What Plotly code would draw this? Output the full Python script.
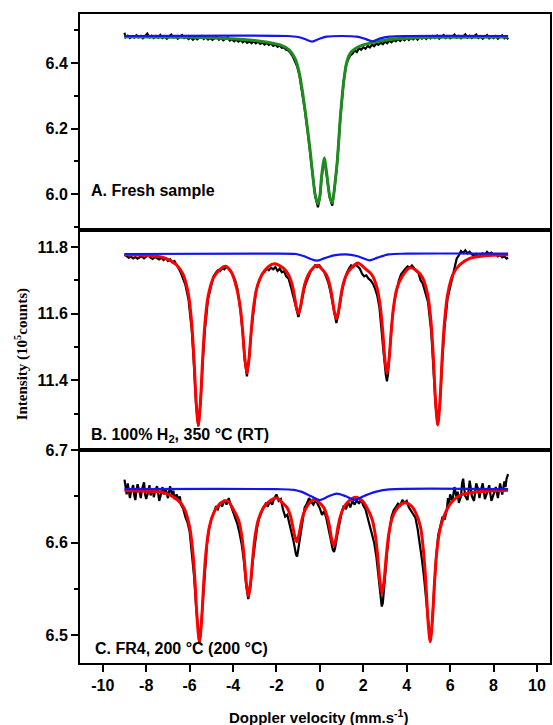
import plotly.graph_objects as go
from plotly.subplots import make_subplots

# ---------------- Panel A: fresh sample ----------------
a_data = [(-9.0, 6.492), (-8.95, 6.478), (-8.85, 6.483), (-8.75, 6.476), (-8.65, 6.481), (-8.55, 6.477),
          (-8.45, 6.484), (-8.35, 6.478), (-8.25, 6.482), (-8.15, 6.475), (-8.05, 6.481), (-7.95, 6.489),
          (-7.85, 6.478), (-7.75, 6.483), (-7.65, 6.476), (-7.55, 6.482), (-7.45, 6.477), (-7.35, 6.485),
          (-7.25, 6.476), (-7.15, 6.481), (-7.05, 6.474), (-6.95, 6.480), (-6.85, 6.486), (-6.75, 6.477),
          (-6.65, 6.481), (-6.55, 6.474), (-6.45, 6.479), (-6.35, 6.485), (-6.25, 6.476), (-6.15, 6.480),
          (-6.05, 6.473), (-5.95, 6.478), (-5.85, 6.471), (-5.75, 6.477), (-5.65, 6.472), (-5.55, 6.478),
          (-5.45, 6.482), (-5.35, 6.473), (-5.25, 6.478), (-5.15, 6.471), (-5.05, 6.476), (-4.95, 6.470),
          (-4.85, 6.475), (-4.75, 6.480), (-4.65, 6.471), (-4.55, 6.476), (-4.45, 6.469), (-4.35, 6.474),
          (-4.25, 6.478), (-4.15, 6.468), (-4.05, 6.472), (-3.95, 6.466), (-3.85, 6.471), (-3.75, 6.465),
          (-3.65, 6.470), (-3.55, 6.463), (-3.45, 6.468), (-3.35, 6.461), (-3.25, 6.466), (-3.15, 6.460),
          (-3.05, 6.466), (-2.95, 6.460), (-2.85, 6.465), (-2.75, 6.458), (-2.65, 6.462), (-2.55, 6.456),
          (-2.45, 6.461), (-2.35, 6.455), (-2.25, 6.459), (-2.15, 6.452), (-2.05, 6.456), (-1.95, 6.449),
          (-1.85, 6.453), (-1.75, 6.446), (-1.65, 6.447), (-1.55, 6.440), (-1.45, 6.438), (-1.35, 6.430),
          (-1.25, 6.420), (-1.15, 6.405), (-1.05, 6.390), (-0.95, 6.365), (-0.81, 6.310), (-0.69, 6.255),
          (-0.58, 6.200), (-0.46, 6.135), (-0.35, 6.065), (-0.22, 5.995), (-0.09, 5.960), (0.0, 5.990),
          (0.08, 6.052), (0.2, 6.108), (0.33, 6.050), (0.45, 5.990), (0.57, 5.965), (0.69, 6.025),
          (0.8, 6.098), (0.95, 6.240), (1.1, 6.345), (1.2, 6.392), (1.3, 6.410), (1.4, 6.423),
          (1.5, 6.428), (1.6, 6.438), (1.7, 6.433), (1.8, 6.445), (1.9, 6.440), (2.0, 6.448),
          (2.1, 6.443), (2.2, 6.452), (2.3, 6.447), (2.4, 6.456), (2.5, 6.451), (2.6, 6.459),
          (2.7, 6.455), (2.8, 6.462), (2.9, 6.457), (3.0, 6.465), (3.1, 6.460), (3.2, 6.468),
          (3.3, 6.463), (3.4, 6.470), (3.5, 6.466), (3.6, 6.473), (3.7, 6.467), (3.8, 6.474),
          (3.9, 6.469), (4.0, 6.476), (4.1, 6.470), (4.2, 6.477), (4.3, 6.472), (4.4, 6.478),
          (4.5, 6.471), (4.6, 6.479), (4.7, 6.474), (4.8, 6.480), (4.9, 6.473), (5.0, 6.481),
          (5.1, 6.475), (5.2, 6.482), (5.3, 6.476), (5.4, 6.483), (5.5, 6.474), (5.6, 6.480),
          (5.7, 6.485), (5.8, 6.476), (5.9, 6.482), (6.0, 6.475), (6.1, 6.481), (6.2, 6.486),
          (6.3, 6.477), (6.4, 6.482), (6.5, 6.475), (6.6, 6.481), (6.7, 6.487), (6.8, 6.477),
          (6.9, 6.483), (7.0, 6.476), (7.1, 6.482), (7.2, 6.486), (7.3, 6.476), (7.4, 6.481),
          (7.5, 6.474), (7.6, 6.480), (7.7, 6.485), (7.8, 6.475), (7.9, 6.481), (8.0, 6.476),
          (8.1, 6.482), (8.2, 6.474), (8.3, 6.480), (8.4, 6.484), (8.5, 6.475), (8.6, 6.479), (8.67, 6.472)]

a_fit = [(-9.0, 6.480), (-6.0, 6.478), (-4.3, 6.474), (-3.0, 6.468), (-2.34, 6.462), (-1.8, 6.454),
         (-1.42, 6.440), (-1.12, 6.410), (-0.95, 6.370), (-0.81, 6.316), (-0.69, 6.260), (-0.58, 6.204),
         (-0.46, 6.140), (-0.35, 6.071), (-0.22, 6.000), (-0.09, 5.970), (0.0, 5.995), (0.08, 6.055),
         (0.2, 6.110), (0.33, 6.055), (0.45, 5.995), (0.57, 5.974), (0.69, 6.030), (0.8, 6.100),
         (0.95, 6.240), (1.1, 6.345), (1.25, 6.405), (1.4, 6.430), (1.64, 6.444), (2.0, 6.455),
         (2.5, 6.463), (3.17, 6.471), (4.3, 6.476), (5.3, 6.478), (8.67, 6.479)]

a_sub = [(-9.0, 6.482), (-1.5, 6.482), (-1.0, 6.479), (-0.7, 6.473), (-0.35, 6.465), (-0.05, 6.473),
         (0.3, 6.480), (1.0, 6.482), (1.7, 6.480), (2.05, 6.474), (2.43, 6.466), (2.75, 6.474),
         (3.2, 6.480), (4.0, 6.482), (8.67, 6.482)]

# ---------------- Panel B: 100% H2, 350 C (RT) ----------------
b_data = [(-9.0, 11.777), (-8.9, 11.772), (-8.8, 11.768), (-8.7, 11.771), (-8.6, 11.766), (-8.5, 11.770),
          (-8.4, 11.765), (-8.3, 11.769), (-8.2, 11.772), (-8.1, 11.766), (-8.0, 11.770), (-7.9, 11.776),
          (-7.8, 11.768), (-7.7, 11.764), (-7.6, 11.770), (-7.5, 11.767), (-7.4, 11.763), (-7.3, 11.768),
          (-7.2, 11.761), (-7.1, 11.766), (-7.0, 11.758), (-6.9, 11.763), (-6.8, 11.754), (-6.7, 11.758),
          (-6.6, 11.748), (-6.5, 11.735), (-6.4, 11.722), (-6.3, 11.706), (-6.2, 11.688), (-6.05, 11.642),
          (-5.9, 11.548), (-5.8, 11.445), (-5.7, 11.325), (-5.6, 11.262), (-5.5, 11.330), (-5.4, 11.450),
          (-5.3, 11.550), (-5.15, 11.645), (-5.0, 11.690), (-4.9, 11.712), (-4.8, 11.722), (-4.7, 11.730),
          (-4.6, 11.728), (-4.5, 11.737), (-4.4, 11.733), (-4.3, 11.741), (-4.2, 11.735), (-4.1, 11.728),
          (-4.0, 11.715), (-3.9, 11.699), (-3.8, 11.675), (-3.66, 11.610), (-3.56, 11.545), (-3.46, 11.460),
          (-3.36, 11.412), (-3.26, 11.465), (-3.16, 11.548), (-3.06, 11.612), (-2.95, 11.665), (-2.85, 11.690),
          (-2.75, 11.706), (-2.65, 11.720), (-2.55, 11.725), (-2.45, 11.735), (-2.35, 11.730), (-2.25, 11.738),
          (-2.15, 11.733), (-2.05, 11.740), (-1.95, 11.728), (-1.85, 11.735), (-1.75, 11.724), (-1.65, 11.728),
          (-1.55, 11.712), (-1.44, 11.705), (-1.34, 11.682), (-1.24, 11.655), (-1.14, 11.630), (-1.04, 11.600),
          (-0.99, 11.590), (-0.92, 11.610), (-0.82, 11.645), (-0.72, 11.675), (-0.62, 11.695), (-0.52, 11.710),
          (-0.42, 11.728), (-0.32, 11.735), (-0.22, 11.745), (-0.12, 11.740), (-0.02, 11.745), (0.08, 11.735),
          (0.18, 11.728), (0.28, 11.712), (0.38, 11.695), (0.48, 11.668), (0.58, 11.635), (0.68, 11.595),
          (0.76, 11.572), (0.84, 11.595), (0.94, 11.640), (1.04, 11.675), (1.14, 11.700), (1.24, 11.722),
          (1.34, 11.735), (1.44, 11.745), (1.54, 11.740), (1.64, 11.748), (1.74, 11.742), (1.84, 11.735),
          (1.94, 11.720), (2.04, 11.712), (2.14, 11.715), (2.24, 11.705), (2.34, 11.700), (2.44, 11.690),
          (2.54, 11.675), (2.64, 11.655), (2.74, 11.620), (2.84, 11.560), (2.94, 11.480), (3.04, 11.415),
          (3.09, 11.397), (3.14, 11.420), (3.24, 11.505), (3.34, 11.590), (3.44, 11.640), (3.54, 11.675),
          (3.64, 11.700), (3.74, 11.718), (3.84, 11.728), (3.94, 11.735), (4.04, 11.742), (4.14, 11.738),
          (4.24, 11.745), (4.34, 11.735), (4.44, 11.728), (4.54, 11.722), (4.64, 11.700), (4.74, 11.690),
          (4.84, 11.670), (4.98, 11.635), (5.13, 11.545), (5.23, 11.445), (5.33, 11.325), (5.43, 11.266),
          (5.53, 11.330), (5.63, 11.450), (5.73, 11.550), (5.88, 11.645), (6.0, 11.680), (6.1, 11.710),
          (6.2, 11.740), (6.3, 11.765), (6.4, 11.775), (6.5, 11.788), (6.6, 11.782), (6.7, 11.790),
          (6.8, 11.781), (6.9, 11.786), (7.0, 11.778), (7.1, 11.774), (7.2, 11.779), (7.3, 11.772),
          (7.4, 11.777), (7.5, 11.781), (7.6, 11.776), (7.7, 11.785), (7.8, 11.779), (7.9, 11.783),
          (8.0, 11.776), (8.1, 11.779), (8.2, 11.772), (8.3, 11.776), (8.4, 11.769), (8.5, 11.772),
          (8.6, 11.765), (8.67, 11.768)]

b_fit = [(-9.0, 11.777), (-8.0, 11.775), (-7.2, 11.768), (-6.6, 11.746), (-6.3, 11.718), (-6.05, 11.656),
         (-5.9, 11.567), (-5.8, 11.465), (-5.7, 11.336), (-5.6, 11.266), (-5.5, 11.336), (-5.4, 11.465),
         (-5.3, 11.567), (-5.15, 11.652), (-4.9, 11.708), (-4.6, 11.733), (-4.35, 11.742), (-4.06, 11.722),
         (-3.81, 11.670), (-3.66, 11.615), (-3.56, 11.550), (-3.46, 11.468), (-3.36, 11.422), (-3.26, 11.468),
         (-3.16, 11.550), (-3.06, 11.617), (-2.91, 11.675), (-2.66, 11.718), (-2.36, 11.742), (-2.1, 11.750),
         (-1.69, 11.737), (-1.44, 11.716), (-1.29, 11.690), (-1.19, 11.660), (-1.09, 11.621), (-0.99, 11.600),
         (-0.89, 11.621), (-0.79, 11.660), (-0.69, 11.690), (-0.54, 11.716), (-0.32, 11.737), (-0.1, 11.745),
         (0.06, 11.736), (0.31, 11.715), (0.46, 11.685), (0.56, 11.651), (0.66, 11.608), (0.76, 11.585),
         (0.86, 11.608), (0.96, 11.651), (1.06, 11.685), (1.21, 11.715), (1.46, 11.738), (1.75, 11.752),
         (2.09, 11.735), (2.39, 11.717), (2.64, 11.676), (2.79, 11.618), (2.89, 11.551), (2.99, 11.466),
         (3.09, 11.420), (3.19, 11.466), (3.29, 11.551), (3.39, 11.618), (3.54, 11.674), (3.79, 11.712),
         (4.15, 11.738), (4.43, 11.730), (4.73, 11.708), (4.98, 11.652), (5.13, 11.567), (5.23, 11.465),
         (5.33, 11.336), (5.43, 11.266), (5.53, 11.336), (5.63, 11.465), (5.73, 11.567), (5.88, 11.656),
         (6.13, 11.718), (6.43, 11.746), (6.9, 11.766), (7.6, 11.774), (8.67, 11.777)]

b_sub = [(-9.0, 11.779), (-3.0, 11.780), (-1.1, 11.779), (-0.75, 11.773), (-0.45, 11.765), (-0.14, 11.759),
         (0.2, 11.766), (0.65, 11.775), (1.2, 11.778), (1.7, 11.773), (2.0, 11.766), (2.3, 11.760),
         (2.65, 11.768), (3.17, 11.778), (4.0, 11.780), (8.67, 11.780)]

# ---------------- Panel C: FR4, 200 C (200 C) ----------------
c_data = [(-9.0, 6.668), (-8.95, 6.660), (-8.9, 6.652), (-8.85, 6.664), (-8.8, 6.657), (-8.75, 6.648),
          (-8.7, 6.655), (-8.6, 6.662), (-8.55, 6.651), (-8.5, 6.646), (-8.45, 6.656), (-8.4, 6.663),
          (-8.3, 6.654), (-8.25, 6.648), (-8.2, 6.657), (-8.1, 6.665), (-8.05, 6.652), (-8.0, 6.647),
          (-7.9, 6.656), (-7.85, 6.662), (-7.8, 6.651), (-7.7, 6.658), (-7.65, 6.649), (-7.6, 6.655),
          (-7.5, 6.661), (-7.45, 6.650), (-7.4, 6.645), (-7.3, 6.654), (-7.25, 6.660), (-7.2, 6.652),
          (-7.1, 6.658), (-7.0, 6.648), (-6.95, 6.655), (-6.9, 6.661), (-6.8, 6.650), (-6.75, 6.656),
          (-6.7, 6.647), (-6.6, 6.652), (-6.5, 6.645), (-6.45, 6.650), (-6.4, 6.641), (-6.3, 6.637),
          (-6.2, 6.628), (-6.1, 6.622), (-6.0, 6.612), (-5.9, 6.588), (-5.8, 6.565), (-5.7, 6.530),
          (-5.6, 6.500), (-5.55, 6.492), (-5.5, 6.500), (-5.4, 6.535), (-5.3, 6.572), (-5.2, 6.598),
          (-5.1, 6.615), (-5.0, 6.626), (-4.9, 6.631), (-4.8, 6.638), (-4.7, 6.636), (-4.6, 6.643),
          (-4.5, 6.639), (-4.4, 6.646), (-4.3, 6.641), (-4.2, 6.648), (-4.1, 6.640), (-4.0, 6.634),
          (-3.9, 6.628), (-3.8, 6.620), (-3.7, 6.610), (-3.6, 6.598), (-3.5, 6.580), (-3.4, 6.555),
          (-3.3, 6.539), (-3.2, 6.552), (-3.1, 6.578), (-3.0, 6.600), (-2.9, 6.615), (-2.8, 6.626),
          (-2.7, 6.633), (-2.6, 6.638), (-2.5, 6.642), (-2.4, 6.639), (-2.3, 6.645), (-2.2, 6.641),
          (-2.1, 6.648), (-2.0, 6.652), (-1.9, 6.645), (-1.8, 6.647), (-1.7, 6.636), (-1.6, 6.628),
          (-1.5, 6.630), (-1.4, 6.620), (-1.3, 6.612), (-1.2, 6.600), (-1.1, 6.587), (-1.05, 6.585),
          (-1.0, 6.592), (-0.9, 6.608), (-0.8, 6.626), (-0.7, 6.638), (-0.6, 6.642), (-0.5, 6.648),
          (-0.4, 6.644), (-0.3, 6.641), (-0.2, 6.646), (-0.1, 6.642), (0.0, 6.637), (0.1, 6.630),
          (0.2, 6.634), (0.3, 6.626), (0.4, 6.615), (0.5, 6.602), (0.6, 6.592), (0.65, 6.590),
          (0.7, 6.594), (0.8, 6.608), (0.9, 6.622), (1.0, 6.632), (1.1, 6.640), (1.2, 6.636),
          (1.3, 6.644), (1.4, 6.638), (1.5, 6.645), (1.6, 6.641), (1.7, 6.646), (1.8, 6.642),
          (1.9, 6.647), (2.0, 6.640), (2.1, 6.636), (2.2, 6.627), (2.3, 6.618), (2.4, 6.610),
          (2.5, 6.600), (2.6, 6.585), (2.7, 6.565), (2.8, 6.540), (2.85, 6.531), (2.9, 6.535),
          (3.0, 6.565), (3.1, 6.590), (3.2, 6.612), (3.3, 6.628), (3.4, 6.635), (3.5, 6.638),
          (3.6, 6.642), (3.7, 6.640), (3.8, 6.646), (3.9, 6.643), (4.0, 6.645), (4.1, 6.638),
          (4.2, 6.634), (4.3, 6.630), (4.4, 6.627), (4.5, 6.615), (4.6, 6.600), (4.7, 6.582),
          (4.8, 6.562), (4.9, 6.535), (5.0, 6.510), (5.08, 6.493), (5.15, 6.505), (5.25, 6.545),
          (5.35, 6.583), (5.45, 6.608), (5.55, 6.620), (5.65, 6.628), (5.75, 6.625), (5.85, 6.636),
          (5.9, 6.648), (5.95, 6.642), (6.0, 6.652), (6.1, 6.645), (6.15, 6.652), (6.2, 6.660),
          (6.3, 6.648), (6.35, 6.655), (6.4, 6.643), (6.5, 6.650), (6.55, 6.664), (6.6, 6.669),
          (6.65, 6.658), (6.7, 6.650), (6.8, 6.646), (6.85, 6.655), (6.9, 6.667), (6.95, 6.659),
          (7.0, 6.650), (7.1, 6.645), (7.15, 6.656), (7.2, 6.664), (7.3, 6.657), (7.35, 6.648),
          (7.4, 6.655), (7.5, 6.664), (7.55, 6.656), (7.6, 6.647), (7.7, 6.654), (7.8, 6.662),
          (7.85, 6.653), (7.9, 6.645), (8.0, 6.652), (8.1, 6.660), (8.2, 6.648), (8.25, 6.655),
          (8.3, 6.664), (8.4, 6.652), (8.45, 6.659), (8.5, 6.666), (8.55, 6.660), (8.6, 6.669), (8.67, 6.674)]

c_fit = [(-9.0, 6.656), (-8.0, 6.6555), (-7.2, 6.654), (-6.55, 6.646), (-6.25, 6.637), (-6.0, 6.617),
         (-5.85, 6.589), (-5.75, 6.557), (-5.65, 6.516), (-5.55, 6.493), (-5.45, 6.516), (-5.35, 6.557),
         (-5.25, 6.589), (-5.1, 6.616), (-4.85, 6.634), (-4.6, 6.642), (-4.4, 6.645), (-4.2, 6.644),
         (-3.99, 6.636), (-3.74, 6.624), (-3.59, 6.606), (-3.49, 6.584), (-3.39, 6.557), (-3.29, 6.542),
         (-3.19, 6.557), (-3.09, 6.584), (-2.99, 6.606), (-2.84, 6.6245), (-2.59, 6.638), (-2.25, 6.646),
         (-1.96, 6.648), (-1.77, 6.644), (-1.52, 6.638), (-1.37, 6.630), (-1.27, 6.620), (-1.17, 6.608),
         (-1.07, 6.601), (-0.97, 6.608), (-0.87, 6.620), (-0.77, 6.630), (-0.62, 6.638), (-0.37, 6.6455),
         (-0.2, 6.6465), (-0.06, 6.644), (0.19, 6.6375), (0.34, 6.628), (0.44, 6.618), (0.54, 6.604),
         (0.64, 6.597), (0.74, 6.604), (0.84, 6.618), (0.94, 6.628), (1.09, 6.6375), (1.34, 6.645),
         (1.64, 6.649), (1.96, 6.645), (2.16, 6.638), (2.41, 6.625), (2.56, 6.607), (2.66, 6.586),
         (2.76, 6.5595), (2.86, 6.545), (2.96, 6.5595), (3.06, 6.586), (3.16, 6.607), (3.31, 6.625),
         (3.56, 6.637), (3.9, 6.643), (4.2, 6.640), (4.38, 6.634), (4.63, 6.6175), (4.78, 6.589),
         (4.88, 6.557), (4.98, 6.516), (5.08, 6.493), (5.18, 6.516), (5.28, 6.557), (5.38, 6.589),
         (5.53, 6.614), (5.78, 6.632), (6.08, 6.644), (6.5, 6.6515), (7.3, 6.655), (8.67, 6.6566)]

c_sub = [(-9.0, 6.6578), (-2.0, 6.6577), (-1.2, 6.6570), (-0.8, 6.6545), (-0.4, 6.6500), (0.0, 6.6460),
         (0.4, 6.6500), (0.78, 6.6530), (1.2, 6.6500), (1.6, 6.6462), (2.1, 6.6510), (2.6, 6.6550),
         (3.2, 6.6575), (8.67, 6.6577)]

panel_labels = ["A. Fresh sample",
                "B. 100% H<sub>2</sub>, 350 °C (RT)",
                "C. FR4, 200 °C (200 °C)"]
y_title = "Intensity (10<sup>5</sup>counts)"
x_title = "Doppler velocity (mm.s<sup>-1</sup>)"
x_ticks = [-10, -8, -6, -4, -2, 0, 2, 4, 6, 8, 10]

# ---------------- Figure ----------------
fig = make_subplots(rows=3, cols=1, shared_xaxes=True, vertical_spacing=0,
                    row_heights=[216, 220, 213])

BLACK = "#000000"
RED = "#ff0000"
GREEN = "#1e8c1e"
BLUE = "#1414f0"


def add_series(pts, row, color, width, shape="linear"):
    xs, ys = zip(*pts)
    fig.add_trace(go.Scatter(x=list(xs), y=list(ys), mode="lines",
                             line=dict(color=color, width=width, shape=shape, smoothing=0.8),
                             showlegend=False, hoverinfo="skip"), row=row, col=1)


add_series(a_data, 1, BLACK, 2.2)
add_series(a_fit, 1, GREEN, 3, "spline")
add_series(a_sub, 1, BLUE, 2.2, "spline")

add_series(b_data, 2, BLACK, 2.2)
add_series(b_fit, 2, RED, 3, "spline")
add_series(b_sub, 2, BLUE, 2.2, "spline")

add_series(c_data, 3, BLACK, 2.2)
add_series(c_fit, 3, RED, 3, "spline")
add_series(c_sub, 3, BLUE, 2.2, "spline")

SANS = "Liberation Sans"
tickfont = dict(family=SANS, size=16, color="black", weight="bold")

for r in (1, 2, 3):
    fig.update_xaxes(range=[-11.05, 10.60], showline=True, linecolor="black", linewidth=1.6,
                     mirror=True, showgrid=False, zeroline=False, row=r, col=1)
fig.update_xaxes(showticklabels=False, ticks="", row=1, col=1)
fig.update_xaxes(showticklabels=False, ticks="", row=2, col=1)
fig.update_xaxes(ticks="outside", ticklen=7, tickwidth=2, tickcolor="black",
                 tickmode="array", tickvals=x_ticks, ticktext=[str(v) for v in x_ticks],
                 showticklabels=True, tickfont=tickfont, row=3, col=1)

yspecs = {1: dict(range=[5.891, 6.549], tickvals=[6.0, 6.2, 6.4], minor=[5.9, 6.1, 6.3, 6.5]),
          2: dict(range=[11.191, 11.851], tickvals=[11.4, 11.6, 11.8], minor=[11.3, 11.5, 11.7]),
          3: dict(range=[6.470, 6.700], tickvals=[6.5, 6.6, 6.7], minor=[6.55, 6.65])}
for r, s in yspecs.items():
    fig.update_yaxes(range=s["range"], tickmode="array", tickvals=s["tickvals"],
                     ticktext=[f"{v:.1f}" for v in s["tickvals"]],
                     ticks="outside", ticklen=7, tickwidth=2, tickcolor="black",
                     minor=dict(tickmode="array", tickvals=s["minor"], ticks="outside",
                                ticklen=4, tickwidth=2, tickcolor="black", showgrid=False),
                     tickfont=tickfont, showline=True, linecolor="black", linewidth=2,
                     mirror=True, showgrid=False, zeroline=False, row=r, col=1)

label_pos = [(0.019, 0.7288), (0.019, 0.3498), (0.0275, 0.0231)]
annotations = []
for text, (px, py) in zip(panel_labels, label_pos):
    annotations.append(dict(text=text, x=px, y=py, xref="paper", yref="paper",
                            xanchor="left", yanchor="middle", showarrow=False,
                            font=dict(family=SANS, size=16, color="black", weight="bold")))
annotations.append(dict(text=y_title, x=-0.125, y=0.476, xref="paper", yref="paper",
                        xanchor="center", yanchor="middle", showarrow=False, textangle=-90,
                        font=dict(family="Liberation Serif", size=15, color="black", weight="bold")))
annotations.append(dict(text=x_title, x=0.5068, y=-0.083, xref="paper", yref="paper",
                        xanchor="center", yanchor="middle", showarrow=False,
                        font=dict(family=SANS, size=15, color="black", weight="bold")))

fig.update_layout(width=553, height=725, margin=dict(l=80, r=1, t=14, b=62),
                  paper_bgcolor="white", plot_bgcolor="white", showlegend=False,
                  annotations=annotations)

fig.write_html("out.html", config={"displayModeBar": False},
               post_script="document.body.style.margin='0';document.body.style.padding='0';"
                           "document.body.style.overflow='hidden';")
